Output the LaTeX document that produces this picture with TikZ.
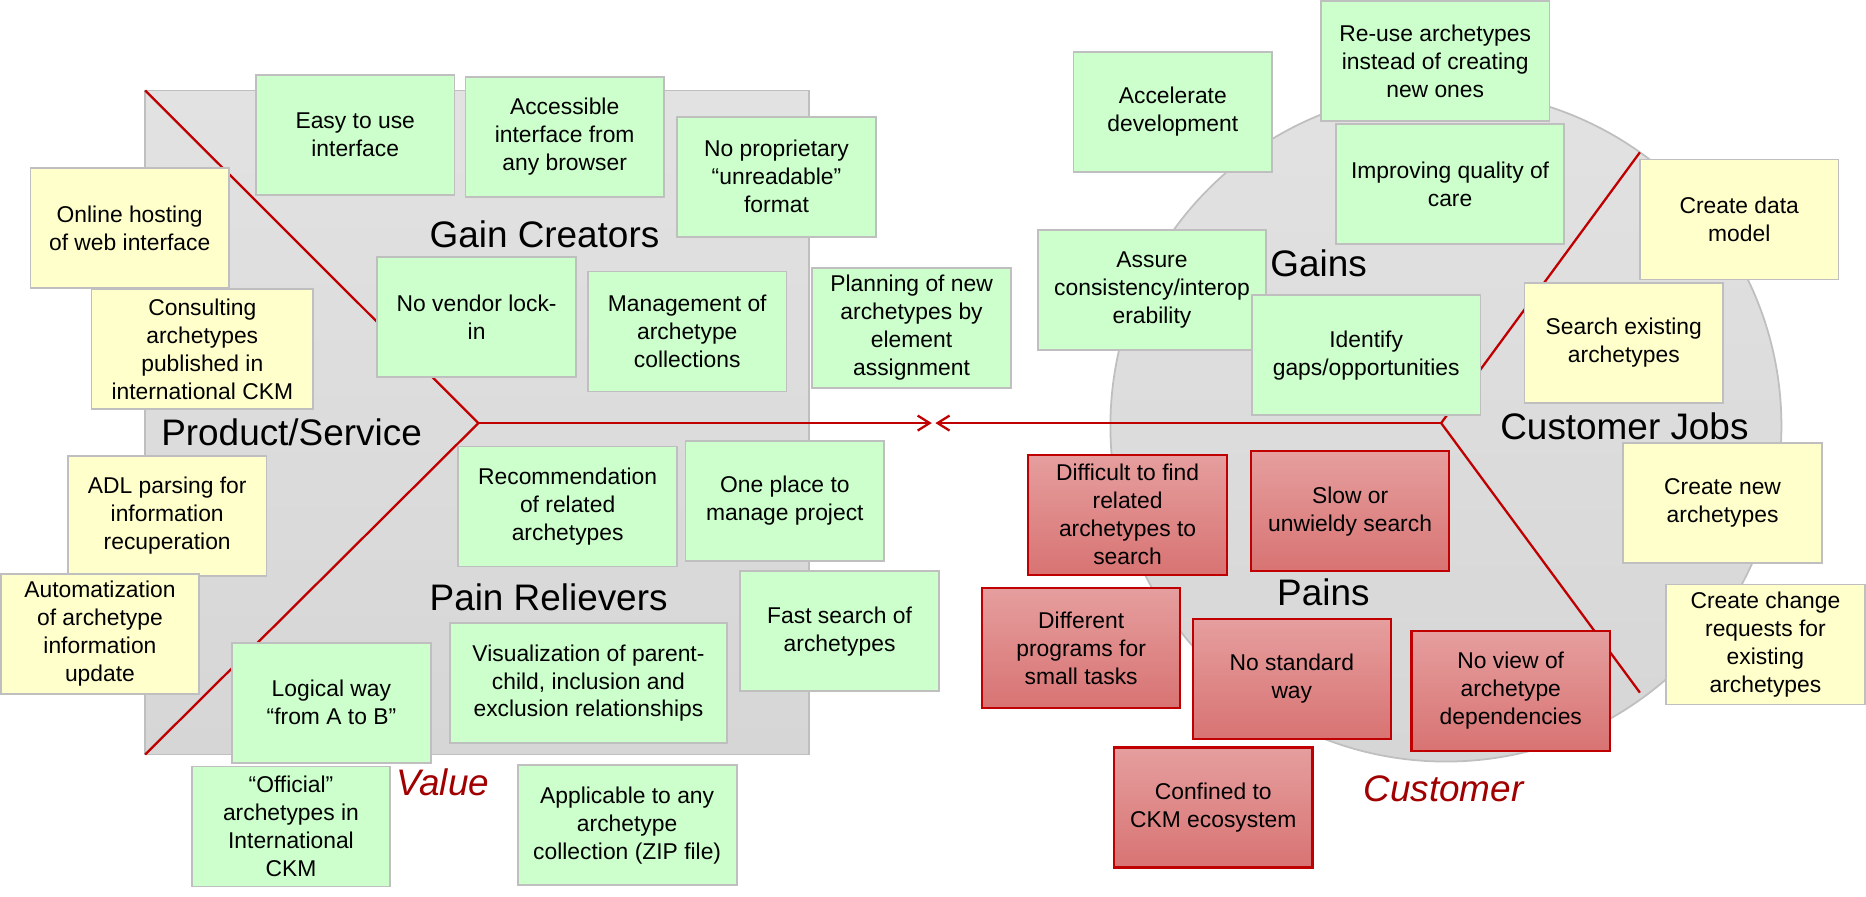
\documentclass[tikz,border=0pt]{standalone}
\usepackage{fontspec}
\setmainfont{Liberation Sans}
\usetikzlibrary{arrows.meta}

\definecolor{linered}{RGB}{192,0,0}
\definecolor{labelred}{RGB}{160,0,0}
\definecolor{boxgray}{RGB}{191,191,191}
\definecolor{gaingreen}{RGB}{204,255,204}
\definecolor{jobyellow}{RGB}{255,255,204}
\definecolor{paintop}{RGB}{230,158,158}
\definecolor{painbottom}{RGB}{216,115,115}
\definecolor{canvastop}{RGB}{226,226,226}
\definecolor{canvasbottom}{RGB}{214,214,214}

\begin{document}
\begin{tikzpicture}[x=0.238mm, y=-0.238mm,
    note/.style={draw=boxgray, line width=1pt, minimum width=39.7mm, minimum height=24mm,
        align=center, inner sep=1pt, font=\fontsize{13}{15.9}\selectfont},
    gain/.style={note, fill=gaingreen},
    job/.style={note, fill=jobyellow},
    pain/.style={note, draw=linered, line width=1.2pt, top color=paintop, bottom color=painbottom},
    canvas/.style={draw=boxgray, line width=1pt, top color=canvastop, bottom color=canvasbottom},
    heading/.style={font=\fontsize{21}{25}\selectfont},
    sidelabel/.style={font=\fontsize{21}{25}\selectfont\itshape, text=labelred},
    redline/.style={draw=linered, line width=1.3pt},
]
    \useasboundingbox (0,0) rectangle (1568,753);

    % Value map square and customer profile circle
    \path[canvas] (122,76) rectangle (680,634);
    \path[canvas] (1215,358) circle [radius=67.1mm];

    % Red axes
    \coordinate (ltop) at (122,76);
    \coordinate (lmid) at (402,355.5);
    \coordinate (lbot) at (122,634);
    \coordinate (rtop) at (1378,128);
    \coordinate (rmid) at (1211,355.5);
    \coordinate (rbot) at (1378,582);
    \coordinate (meetl) at (783,355.5);
    \coordinate (meetr) at (786,355.5);
    \draw[redline] (ltop) -- (lmid) -- (lbot);
    \draw[redline] (rtop) -- (rmid) -- (rbot);
    \draw[redline, -{Straight Barb[length=2.4mm, width=3mm]}] (lmid) -- (meetl);
    \draw[redline, -{Straight Barb[length=2.4mm, width=3mm]}] (rmid) -- (meetr);

    % Gain creators
    \node[gain] (easy) at (298.5,113.5) {Easy to use\\interface};
    \node[gain] (access) at (474.5,115) {Accessible\\interface from\\any browser};
    \node[gain] (noprop) at (652.5,148.5) {No proprietary\\“unreadable”\\format};
    \node[gain] (vendor) at (400.5,266.5) {No vendor lock-\\in};
    \node[gain] (manage) at (577.5,278.5) {Management of\\archetype\\collections};
    \node[gain] (planning) at (766,275.5) {Planning of new\\archetypes by\\element\\assignment};

    % Pain relievers
    \node[gain, minimum width=43.8mm] (recommend) at (477,425.5) {Recommendation\\of related\\archetypes};
    \node[gain] (oneplace) at (659.5,421) {One place to\\manage project};
    \node[gain] (fastsearch) at (705.5,530.5) {Fast search of\\archetypes};
    \node[gain, minimum width=55.45mm] (visual) at (494.5,574) {Visualization of parent-\\child, inclusion and\\exclusion relationships};
    \node[gain] (logical) at (278.5,590.5) {Logical way\\“from A to B”};
    \node[gain] (official) at (244.5,694.5) {“Official”\\archetypes in\\International\\CKM};
    \node[gain, minimum width=43.8mm] (applicable) at (527,693.5) {Applicable to any\\archetype\\collection (ZIP file)};

    % Products and services
    \node[job] (hosting) at (109,191.5) {Online hosting\\of web interface};
    \node[job, minimum width=44.3mm] (consulting) at (170,293.5) {Consulting\\archetypes\\published in\\international CKM};
    \node[job] (adl) at (140.5,433.5) {ADL parsing for\\information\\recuperation};
    \node[job, minimum width=39.5mm] (automat) at (84,532.5) {Automatization\\of archetype\\information\\update};

    % Gains
    \node[gain] (accel) at (985.5,94) {Accelerate\\development};
    \node[gain, minimum width=45.7mm] (reuse) at (1206,51.5) {Re-use archetypes\\instead of creating\\new ones};
    \node[gain, minimum width=45.5mm] (quality) at (1218.5,154.5) {Improving quality of\\care};
    \node[gain, minimum width=45.7mm] (assure) at (968,243.5) {Assure\\consistency/interop\\erability};
    \node[gain, minimum width=45.7mm] (identify) at (1148,298.5) {Identify\\gaps/opportunities};

    % Customer jobs
    \node[job] (datamodel) at (1461.5,184.5) {Create data\\model};
    \node[job] (searchex) at (1364.5,288) {Search existing\\archetypes};
    \node[job] (createnew) at (1447.5,422.5) {Create new\\archetypes};
    \node[job] (changereq) at (1483.5,541.5) {Create change\\requests for\\existing\\archetypes};

    % Pains
    \node[pain] (difficult) at (947.5,432.5) {Difficult to find\\related\\archetypes to\\search};
    \node[pain] (slow) at (1134.5,429.5) {Slow or\\unwieldy search};
    \node[pain] (different) at (908.5,544.5) {Different\\programs for\\small tasks};
    \node[pain] (nostandard) at (1085.5,570.5) {No standard\\way};
    \node[pain] (noview) at (1269.5,580.5) {No view of\\archetype\\dependencies};
    \node[pain] (confined) at (1019.5,678.5) {Confined to\\CKM ecosystem};

    % Section titles
    \node[heading] (gaincreators) at (457.5,197) {Gain Creators};
    \node[heading] (product) at (245,363) {Product/Service};
    \node[heading] (painrelievers) at (461,502) {Pain Relievers};
    \node[heading] (gains) at (1108,221) {Gains};
    \node[heading] (jobs) at (1365,358) {Customer Jobs};
    \node[heading] (pains) at (1112,498) {Pains};
    \node[sidelabel] (value) at (372,657) {Value};
    \node[sidelabel] (customer) at (1213,663) {Customer};
\end{tikzpicture}
\end{document}
